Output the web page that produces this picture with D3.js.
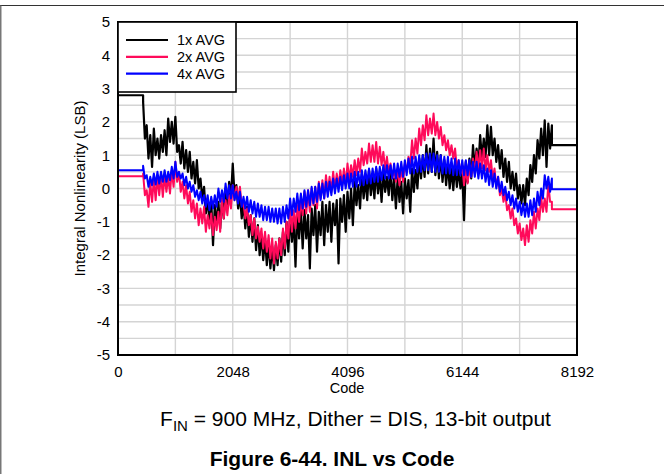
<!DOCTYPE html>
<html>
<head>
<meta charset="utf-8">
<script src="https://cdn.jsdelivr.net/npm/d3@7"></script>
<style>
  html, body { margin: 0; padding: 0; background: #fff; }
  svg { display: block; font-family: "Liberation Sans", Arial, sans-serif; }
</style>
</head>
<body>
<svg id="chart" width="664" height="474"></svg>
<script>
// ---- data ----
const xTicks = [0, 2048, 4096, 6144, 8192];
const yTicks = [-5, -4, -3, -2, -1, 0, 1, 2, 3, 4, 5];
const seriesNames = ["1x AVG", "2x AVG", "4x AVG"];
const seriesColors = ["#000000", "#ff0a5a", "#0000ff"];
const codeStart = 448;   // first measured code
const codeStep = 32;     // spacing of the read-off samples
const heldStart = [2.8, 0.37, 0.55];   // flat value before first measured code
const heldEnd = [1.3, -0.62, -0.02];   // flat value after last measured code
const avg1x = [
  2.6, 1.5, 1.9, 0.9, 1.6, 0.65, 1.8, 1.0, 1.5, 0.9,
  1.6, 1.1, 1.75, 1.0, 2.1, 1.4, 2.0, 1.35, 2.15, 1.1,
  1.3, 0.75, 1.4, 0.6, 1.15, 0.5, 1.1, 0.3, 0.8, 0.15,
  0.85, 0.0, 0.3, -0.3, 0.05, -0.75, -0.3, -1.0, -0.35, -1.7,
  -0.5, -1.1, -0.4, -1.2, -0.3, -0.9, 0.0, -0.6, 0.2, -0.3,
  0.75, -0.2, 0.1, -0.6, -0.2, -0.9, -0.45, -1.2, -0.55, -1.45,
  -0.8, -1.6, -0.9, -1.85, -1.1, -2.0, -1.4, -2.15, -1.5, -2.3,
  -1.6, -2.4, -1.75, -2.45, -1.7, -2.3, -1.5, -2.2, -1.3, -2.0,
  -1.0, -1.9, -0.8, -1.6, -0.9, -2.35, -0.7, -1.5, -0.6, -1.8,
  -0.65, -1.5, -0.8, -2.4, -0.6, -1.4, -0.5, -1.9, -0.7, -1.4,
  -0.4, -1.7, -0.5, -1.3, -0.4, -1.6, -0.45, -1.1, -0.35, -2.25,
  -0.3, -1.0, -0.2, -1.3, -0.1, -0.9, 0.0, -1.1, 0.2, -0.5,
  0.1, -0.6, 0.45, -0.3, 0.3, -0.35, 0.55, -0.2, 0.35, -0.3,
  0.6, -0.15, 0.4, -0.4, 0.5, -0.1, 0.35, -0.2, 0.6, -0.35,
  0.3, -0.6, 0.35, -0.4, 0.2, -0.75, 0.3, -0.3, 0.25, -0.7,
  0.6, -0.1, 0.55, 0.0, 0.9, 0.3, 1.0, 0.35, 1.3, 0.45,
  1.2, 0.5, 1.5, 0.4, 1.1, 0.3, 1.0, 0.2, 0.85, 0.1,
  0.75, 0.0, 0.6, -0.05, 0.7, 0.05, 0.6, 0.0, 0.5, -0.95,
  0.8, 0.2, 0.9, 0.3, 1.3, 0.6, 1.2, 0.7, 1.6, 0.9,
  1.5, 0.95, 1.9, 1.0, 1.85, 1.0, 1.5, 0.8, 1.3, 0.6,
  1.15, 0.35, 0.9, 0.2, 0.8, 0.0, 0.5, -0.05, 0.45, -0.3,
  0.1, -0.45, 0.1, -0.5, 0.3, -0.2, 0.7, 0.2, 1.0, 0.45,
  1.45, 0.9, 1.8, 1.0, 2.05, 0.65, 1.95, 1.2, 1.9];
const avg2x = [
  0.45, -0.2, -0.05, -0.55, 0.2, -0.4, 0.3, -0.35, 0.35, -0.2,
  0.4, -0.25, 0.4, -0.1, 0.35, -0.15, 0.55, 0.05, 0.8, 0.2,
  0.5, -0.1, 0.2, -0.3, 0.1, -0.45, -0.1, -0.7, -0.35, -0.9,
  -0.45, -1.1, -0.6, -1.05, -0.55, -1.3, -0.8, -1.2, -0.75, -1.4,
  -0.85, -1.25, -0.7, -1.3, -0.3, -0.9, -0.35, -0.8, -0.2, -0.6,
  0.1, -0.35, 0.05, -0.3, 0.05, -0.5, -0.45, -0.9, -0.6, -1.1,
  -0.8, -1.4, -0.9, -1.5, -1.15, -1.6, -1.2, -1.8, -1.3, -1.9,
  -1.4, -2.1, -1.5, -2.25, -1.6, -2.1, -1.5, -2.0, -1.2, -1.8,
  -1.0, -1.5, -0.6, -1.3, -0.65, -1.2, -0.5, -1.0, -0.35, -0.8,
  -0.1, -0.75, -0.05, -0.7, 0.0, -0.5, 0.05, -0.6, 0.2, -0.3,
  0.25, -0.3, 0.4, -0.1, 0.35, -0.1, 0.5, 0.0, 0.45, 0.05,
  0.55, 0.1, 0.6, 0.1, 0.75, 0.25, 0.7, 0.35, 0.85, 0.4,
  0.9, 0.5, 1.2, 0.7, 1.1, 0.75, 1.35, 0.8, 1.3, 0.8,
  1.4, 0.75, 1.25, 0.7, 1.1, 0.55, 0.95, 0.45, 0.75, 0.3,
  0.6, 0.2, 0.6, 0.1, 0.65, 0.2, 0.75, 0.5, 0.95, 0.7,
  1.45, 0.9, 1.5, 1.05, 1.8, 1.3, 1.9, 1.45, 2.2, 1.6,
  2.1, 1.65, 2.25, 1.6, 2.0, 1.5, 1.85, 1.3, 1.6, 1.15,
  1.45, 1.0, 1.3, 0.9, 1.2, 0.6, 0.85, 0.45, 0.7, 0.1,
  0.6, 0.15, 0.6, 0.35, 0.9, 0.45, 1.1, 0.6, 1.15, 0.6,
  1.2, 0.55, 1.0, 0.5, 0.85, 0.3, 0.6, 0.05, 0.35, -0.2,
  0.0, -0.4, -0.15, -0.65, -0.5, -0.9, -0.6, -1.1, -0.9, -1.35,
  -1.05, -1.55, -1.2, -1.7, -1.1, -1.6, -0.95, -1.35, -0.7, -1.2,
  -0.6, -0.95, -0.25, -0.7, -0.3, -0.7, 0.15, -0.4, -0.4];
const avg4x = [
  0.68, 0.3, 0.4, 0.05, 0.35, 0.1, 0.45, 0.12, 0.5, 0.15,
  0.5, 0.2, 0.55, 0.2, 0.5, 0.25, 0.65, 0.3, 0.8, 0.35,
  0.5, 0.3, 0.45, 0.1, 0.35, 0.0, 0.2, -0.1, 0.1, -0.25,
  -0.05, -0.35, -0.1, -0.45, -0.2, -0.55, -0.2, -0.65, -0.25, -0.6,
  -0.2, -0.55, 0.0, -0.4, -0.05, -0.4, 0.15, -0.3, 0.1, -0.3,
  0.1, -0.35, -0.1, -0.45, -0.1, -0.55, -0.25, -0.6, -0.25, -0.7,
  -0.35, -0.75, -0.4, -0.85, -0.45, -0.85, -0.5, -0.95, -0.55, -0.95,
  -0.55, -1.0, -0.6, -1.0, -0.6, -1.05, -0.6, -1.05, -0.55, -1.0,
  -0.5, -0.9, -0.3, -0.8, -0.3, -0.7, -0.15, -0.65, -0.15, -0.6,
  -0.05, -0.55, -0.05, -0.5, 0.05, -0.45, 0.05, -0.4, 0.15, -0.35,
  0.15, -0.3, 0.2, -0.25, 0.2, -0.2, 0.3, -0.15, 0.3, -0.1,
  0.35, -0.05, 0.4, 0.0, 0.45, 0.0, 0.45, 0.05, 0.5, 0.05,
  0.5, 0.1, 0.55, 0.1, 0.55, 0.15, 0.6, 0.15, 0.6, 0.2,
  0.65, 0.2, 0.65, 0.25, 0.7, 0.3, 0.7, 0.3, 0.7, 0.3,
  0.75, 0.3, 0.75, 0.35, 0.8, 0.35, 0.85, 0.4, 0.9, 0.45,
  0.95, 0.45, 0.95, 0.5, 1.0, 0.5, 1.0, 0.55, 1.05, 0.55,
  1.05, 0.5, 1.05, 0.5, 1.0, 0.5, 1.0, 0.45, 0.95, 0.45,
  0.95, 0.45, 0.9, 0.4, 0.9, 0.4, 0.85, 0.4, 0.85, 0.4,
  0.85, 0.4, 0.85, 0.35, 0.8, 0.35, 0.8, 0.3, 0.75, 0.3,
  0.7, 0.2, 0.6, 0.1, 0.55, 0.05, 0.45, 0.0, 0.35, -0.1,
  0.2, -0.2, 0.05, -0.35, -0.1, -0.5, -0.2, -0.6, -0.3, -0.7,
  -0.4, -0.8, -0.45, -0.85, -0.45, -0.85, -0.35, -0.8, -0.3, -0.7,
  -0.1, -0.5, 0.0, -0.3, 0.4, 0.0, 0.35, -0.1, 0.3];
const seriesValues = [avg1x, avg2x, avg4x];

// ---- layout ----
const svg = d3.select("#chart");
const W = 664, H = 474;
const plot = { left: 118, right: 577, top: 22, bottom: 355 };

const x = d3.scaleLinear().domain([0, 8192]).range([plot.left, plot.right]);
const y = d3.scaleLinear().domain([-5, 5]).range([plot.bottom, plot.top]);

// outer figure frame (top and left edges visible)
svg.append("line").attr("x1", 0).attr("x2", W).attr("y1", 5.5).attr("y2", 5.5)
  .attr("stroke", "#333").attr("stroke-width", 1.2);
svg.append("line").attr("x1", 0.8).attr("x2", 0.8).attr("y1", 5).attr("y2", H)
  .attr("stroke", "#555").attr("stroke-width", 1.2);

// grid
const grid = svg.append("g");
grid.selectAll("line.v").data(d3.range(1024, 8192, 1024)).join("line")
  .attr("x1", d => x(d)).attr("x2", d => x(d))
  .attr("y1", plot.top).attr("y2", plot.bottom)
  .attr("stroke", "#d4d4d4").attr("stroke-width", 1.4);
grid.selectAll("line.h").data(d3.range(-4.5, 5, 0.5)).join("line")
  .attr("x1", plot.left).attr("x2", plot.right)
  .attr("y1", d => y(d)).attr("y2", d => y(d))
  .attr("stroke", "#d4d4d4").attr("stroke-width", 1.4);

// series
svg.append("clipPath").attr("id", "clip").append("rect")
  .attr("x", plot.left).attr("y", plot.top)
  .attr("width", plot.right - plot.left).attr("height", plot.bottom - plot.top);

const line = d3.line().x(d => x(d[0])).y(d => y(d[1]));
const gSeries = svg.append("g").attr("clip-path", "url(#clip)");
seriesValues.forEach((vals, k) => {
  const pts = [[0, heldStart[k]], [codeStart, heldStart[k]]];
  vals.forEach((v, i) => pts.push([codeStart + i * codeStep, v]));
  const lastCode = codeStart + (vals.length - 1) * codeStep;
  pts.push([lastCode, heldEnd[k]]);
  pts.push([8192, heldEnd[k]]);
  gSeries.append("path").datum(pts)
    .attr("d", line)
    .attr("fill", "none")
    .attr("stroke", seriesColors[k])
    .attr("stroke-width", k === 0 ? 2.2 : 2)
    .attr("stroke-linejoin", "round");
});

// plot frame
svg.append("rect")
  .attr("x", plot.left).attr("y", plot.top)
  .attr("width", plot.right - plot.left).attr("height", plot.bottom - plot.top)
  .attr("fill", "none").attr("stroke", "#000").attr("stroke-width", 2);

// axes (labels only)
const fmt = d => String(d);
const xAxis = d3.axisBottom(x).tickValues(xTicks).tickFormat(fmt).tickSize(0).tickPadding(11);
const gx = svg.append("g").attr("transform", `translate(0,${plot.bottom})`).call(xAxis);
gx.select(".domain").remove();
gx.selectAll("text").attr("font-size", 15).attr("fill", "#000")
  .attr("font-family", "Liberation Sans, Arial, sans-serif");

const yAxis = d3.axisLeft(y).tickValues(yTicks).tickFormat(fmt).tickSize(0).tickPadding(8);
const gy = svg.append("g").attr("transform", `translate(${plot.left},0)`).call(yAxis);
gy.select(".domain").remove();
gy.selectAll("text").attr("font-size", 15).attr("fill", "#000")
  .attr("font-family", "Liberation Sans, Arial, sans-serif");

svg.append("text").attr("x", 347).attr("y", 393)
  .attr("text-anchor", "middle").attr("font-size", 14.5).text("Code");

svg.append("text")
  .attr("transform", `translate(84.5,${(plot.top + plot.bottom) / 2}) rotate(-90)`)
  .attr("text-anchor", "middle").attr("font-size", 15)
  .text("Integral Nonlinearity (LSB)");

// legend
const leg = svg.append("g");
leg.append("rect").attr("x", plot.left).attr("y", plot.top)
  .attr("width", 118).attr("height", 70)
  .attr("fill", "#fff").attr("stroke", "#000").attr("stroke-width", 1.6);
seriesNames.forEach((name, k) => {
  const ly = 40 + k * 16.8;
  leg.append("line").attr("x1", 126).attr("x2", 168).attr("y1", ly).attr("y2", ly)
    .attr("stroke", seriesColors[k]).attr("stroke-width", 2.2);
  leg.append("text").attr("x", 177).attr("y", ly + 5)
    .attr("font-size", 14.5).text(name);
});

// caption
const cap = svg.append("text").attr("x", 355.5).attr("y", 426)
  .attr("text-anchor", "middle").attr("font-size", 21);
cap.append("tspan").text("F");
cap.append("tspan").attr("font-size", 15).attr("dy", 5).text("IN");
cap.append("tspan").attr("dy", -5).text(" = 900 MHz, Dither = DIS, 13-bit output");

svg.append("text").attr("x", 332).attr("y", 466)
  .attr("text-anchor", "middle").attr("font-size", 21).attr("font-weight", "bold")
  .text("Figure 6-44. INL vs Code");
</script>
</body>
</html>
